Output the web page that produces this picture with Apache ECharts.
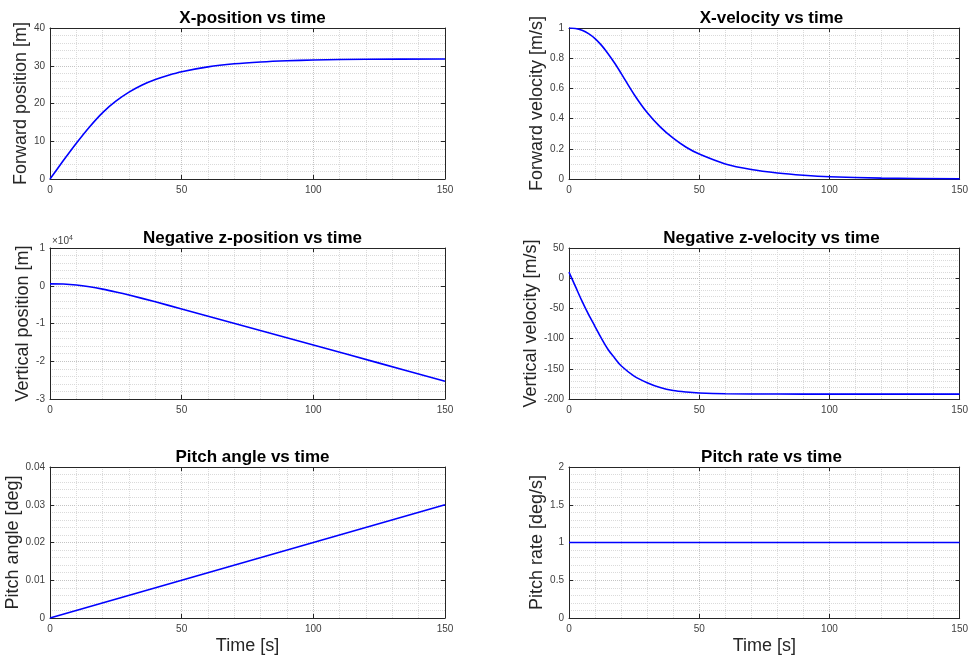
<!DOCTYPE html>
<html>
<head>
<meta charset="utf-8">
<script src="https://cdn.jsdelivr.net/npm/echarts@6/dist/echarts.min.js"></script>
<style>
  html, body { margin: 0; padding: 0; background: #fff; }
  #chart { width: 971px; height: 663px; }
</style>
</head>
<body>
<div id="chart"></div>
<script>
// time samples and values
const tXPos = [0, 5, 10, 15, 20, 25, 30, 35, 40, 45, 50, 60, 70, 80, 90, 100, 120, 150];
const xPos = [0, 4.82, 9.48, 13.8, 17.6, 20.6, 23.0, 24.9, 26.35, 27.5, 28.43, 29.71, 30.51, 31.0, 31.32, 31.52, 31.72, 31.8];

const tXVel = [0, 2.5, 5, 7.5, 10, 12.5, 15, 17.5, 20, 25, 30, 35, 40, 45, 50, 60, 70, 80, 90, 100, 120, 150];
const xVel = [1.0, 0.997, 0.985, 0.963, 0.93, 0.885, 0.83, 0.768, 0.70, 0.56, 0.44, 0.345, 0.27, 0.21, 0.165, 0.10, 0.063, 0.04, 0.025, 0.015, 0.006, 0.001];

const tZPos = [0, 5, 10, 15, 20, 25, 30, 40, 50, 75, 100, 125, 150];
const zPos = [500, 450, 200, -270, -900, -1650, -2470, -4250, -6150, -10900, -15700, -20500, -25300];

const tZVel = [0, 2.5, 5, 7.5, 10, 12.5, 15, 17.5, 20, 25, 30, 35, 40, 45, 50, 60, 80, 100, 150];
const zVel = [10, -14, -38, -60, -80, -100, -118, -132, -145, -162, -173, -181, -186, -188.5, -190, -191.3, -191.8, -192, -192];

const tPitch = [0, 150];
const pitchAngle = [0, 0.03];

const tRate = [0, 150];
const pitchRate = [1, 1];

const xTicks = { min: 0, max: 150, interval: 50 };

const FONT = '"Liberation Sans", Helvetica, Arial, sans-serif';
const AXIS_COLOR = '#262626';

const panels = [
  { title: 'X-position vs time', yName: 'Forward position [m]', t: tXPos, v: xPos,
    yMin: 0, yMax: 40, yInt: 10, yMinor: 5, gap: 17 },
  { title: 'X-velocity vs time', yName: 'Forward velocity [m/s]', t: tXVel, v: xVel,
    yMin: 0, yMax: 1, yInt: 0.2, yMinor: 4, gap: 20 },
  { title: 'Negative z-position vs time', yName: 'Vertical position [m]', t: tZPos, v: zPos,
    yMin: -30000, yMax: 10000, yInt: 10000, yMinor: 5, gap: 17, fmt: v => String(v / 10000) },
  { title: 'Negative z-velocity vs time', yName: 'Vertical velocity [m/s]', t: tZVel, v: zVel,
    yMin: -200, yMax: 50, yInt: 50, yMinor: 5, gap: 20 },
  { title: 'Pitch angle vs time', yName: 'Pitch angle [deg]', t: tPitch, v: pitchAngle,
    yMin: 0, yMax: 0.04, yInt: 0.01, yMinor: 5, gap: 15, xName: 'Time [s]' },
  { title: 'Pitch rate vs time', yName: 'Pitch rate [deg/s]', t: tRate, v: pitchRate,
    yMin: 0, yMax: 2, yInt: 0.5, yMinor: 5, gap: 20, xName: 'Time [s]' }
];

const boxes = [
  { left: 50, top: 28 }, { left: 569, top: 28 },
  { left: 50, top: 248 }, { left: 569, top: 248 },
  { left: 50, top: 467 }, { left: 569, top: 467 }
];
const W = 395, H = 151;

const grid = [], xAxis = [], yAxis = [], series = [], title = [];

panels.forEach((p, i) => {
  const b = boxes[i];
  grid.push({ left: b.left, top: b.top, width: W, height: H });
  title.push({
    text: p.title, left: b.left + W / 2, top: b.top - 23, textAlign: 'center',
    textStyle: { fontFamily: FONT, fontSize: 17, fontWeight: 'bold', color: '#000' }
  });

  const common = {
    axisLine: { show: true, onZero: false, lineStyle: { color: AXIS_COLOR, width: 1 } },
    axisTick: { show: true, inside: true, length: 4, lineStyle: { color: AXIS_COLOR } }
  };

  // bottom x axis with labels and grid
  xAxis.push(Object.assign({
    gridIndex: i, type: 'value', position: 'bottom',
    min: xTicks.min, max: xTicks.max, interval: xTicks.interval,
    axisLabel: { fontFamily: FONT, fontSize: 10, color: '#404040', margin: 6 },
    splitLine: { show: true, lineStyle: { color: '#c4c4c4', type: 'dotted', width: 1 } },
    minorTick: { show: false, splitNumber: 5 },
    minorSplitLine: { show: true, lineStyle: { color: '#dadada', type: 'dotted', width: 1 } },
    name: p.xName || '', nameLocation: 'middle', nameGap: 19,
    nameTextStyle: { fontFamily: FONT, fontSize: 18, color: '#262626' }
  }, common));
  // top x axis, ticks only
  xAxis.push(Object.assign({
    gridIndex: i, type: 'value', position: 'top',
    min: xTicks.min, max: xTicks.max, interval: xTicks.interval,
    axisLabel: { show: false }, splitLine: { show: false }
  }, common));

  yAxis.push(Object.assign({
    gridIndex: i, type: 'value', position: 'left',
    min: p.yMin, max: p.yMax, interval: p.yInt,
    axisLabel: { fontFamily: FONT, fontSize: 10, color: '#404040', margin: 5,
                 formatter: p.fmt || (v => String(+v.toFixed(4))) },
    splitLine: { show: true, lineStyle: { color: '#c4c4c4', type: 'dotted', width: 1 } },
    minorTick: { show: false, splitNumber: p.yMinor },
    minorSplitLine: { show: true, lineStyle: { color: '#dadada', type: 'dotted', width: 1 } },
    name: p.yName, nameLocation: 'middle', nameGap: p.gap,
    nameTextStyle: { fontFamily: FONT, fontSize: 18, color: '#262626' }
  }, common));
  yAxis.push(Object.assign({
    gridIndex: i, type: 'value', position: 'right',
    min: p.yMin, max: p.yMax, interval: p.yInt,
    axisLabel: { show: false }, splitLine: { show: false }
  }, common));

  series.push({
    type: 'line', xAxisIndex: 2 * i, yAxisIndex: 2 * i,
    data: p.t.map((t, k) => [t, p.v[k]]),
    smooth: 0.3, showSymbol: false, symbol: 'none',
    lineStyle: { color: '#0000ff', width: 1.6 }, z: 5
  });
});

const chart = echarts.init(document.getElementById('chart'), null, { renderer: 'canvas' });
chart.setOption({
  animation: false,
  backgroundColor: '#ffffff',
  title, grid, xAxis, yAxis, series,
  graphic: [{
    type: 'text', left: 52, top: 235,
    style: {
      text: '×10{sup|4}', fill: '#404040', font: '10px ' + FONT,
      rich: { sup: { fontSize: 7, verticalAlign: 'top', padding: [0, 0, 5, 0] } }
    }
  }]
});
</script>
</body>
</html>
